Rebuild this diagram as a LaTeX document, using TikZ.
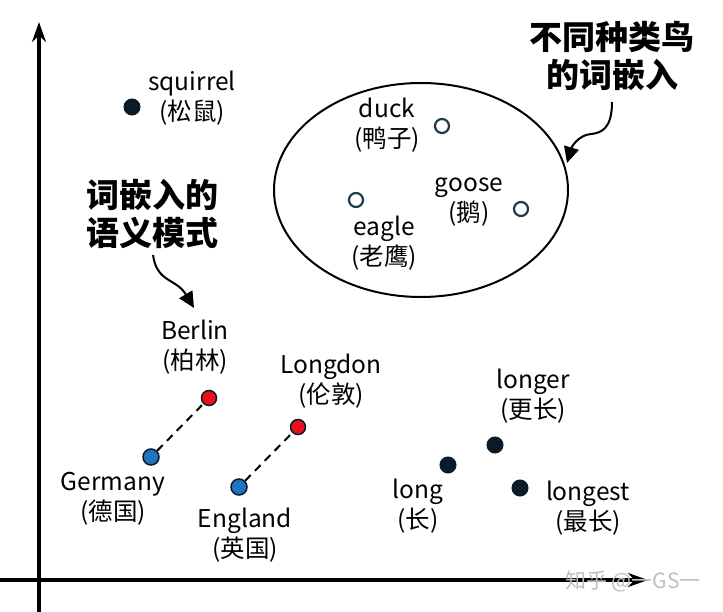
\documentclass[tikz,border=0pt]{standalone}
\usepackage{fontspec}
\usepackage{tikz}
\usetikzlibrary{arrows.meta,shapes.geometric}
\newfontfamily\cjk{Noto Sans CJK SC}

\definecolor{dotdark}{HTML}{0B1A26}
\definecolor{birdline}{HTML}{1C3A48}
\definecolor{cityred}{HTML}{E8101A}
\definecolor{landblue}{HTML}{1F74C2}
\tikzset{
  word/.style={align=center,font=\cjk\fontsize{24.5}{30}\selectfont},
  title/.style={align=center,font=\cjk\bfseries\fontsize{33}{38}\selectfont},
  dot/.style={circle,fill=dotdark,draw=dotdark,line width=1pt,minimum size=16pt,inner sep=0pt},
  bird/.style={circle,fill=white,draw=birdline,line width=2.2pt,minimum size=14pt,inner sep=0pt},
  city/.style={circle,fill=cityred,draw=dotdark,line width=1.5pt,minimum size=15pt,inner sep=0pt},
  land/.style={circle,fill=landblue,draw=dotdark,line width=1.5pt,minimum size=16pt,inner sep=0pt},
  curvy/.style={line width=2pt,-{Triangle[length=16pt,width=15pt]}}
}

\begin{document}
\begin{tikzpicture}[x=1pt,y=-1pt,>=stealth]
  \useasboundingbox (0,0) rectangle (723,612);

  % axes
  \coordinate (O1) at (39,612);
  \coordinate (Y1) at (39,22);
  \coordinate (O2) at (0,580);
  \coordinate (X1) at (648,580);
  \draw[line width=3.5pt,-{Stealth[length=20pt,width=14pt]}] (O1) -- (Y1);
  \draw[line width=3.5pt,-{Stealth[length=20pt,width=14pt]}] (O2) -- (X1);

  % squirrel
  \node[dot] (sq) at (132,107) {};
  \node[word] (sqL) at (192,98) {squirrel\\(松鼠)};

  % birds
  \node[draw,ellipse,line width=2pt,minimum width=294pt,minimum height=214pt] (E) at (421,190) {};
  \node[bird] (duck) at (442,126) {};
  \node[word] (duckL) at (387,125) {duck\\(鸭子)};
  \node[bird] (eagle) at (356,200) {};
  \node[word] (eagleL) at (384,243) {eagle\\(老鹰)};
  \node[bird] (goose) at (521,209) {};
  \node[word] (gooseL) at (469,202) {goose\\(鹅)};

  \node[title] (T1) at (612,56) {不同种类鸟\\的词嵌入};
  \coordinate (T1a) at (612,102);
  \coordinate (T1b) at (567,163);
  \draw[curvy] (T1a) .. controls (612,128) and (602,133) .. (591,134)
    .. controls (579,135) and (572,146) .. (T1b);

  \node[title] (T2) at (152,214) {词嵌入的\\语义模式};
  \coordinate (T2a) at (153,255);
  \coordinate (T2b) at (194,308);
  \draw[curvy] (T2a) .. controls (157,283) and (176,278) .. (T2b);

  % capitals
  \node[land] (DE) at (151,457) {};
  \node[city] (BE) at (209,398) {};
  \node[land] (EN) at (239,487) {};
  \node[city] (LO) at (298,427) {};
  \draw[line width=2pt,dash pattern=on 8pt off 6pt] (DE) -- (BE);
  \draw[line width=2pt,dash pattern=on 8pt off 6pt] (EN) -- (LO);
  \node[word] (BEL) at (195,347) {Berlin\\(柏林)};
  \node[word] (LOL) at (331,381) {Longdon\\(伦敦)};
  \node[word] (DEL) at (113,499) {Germany\\(德国)};
  \node[word] (ENL) at (245,535) {England\\(英国)};

  % long
  \node[dot] (lg) at (448,465) {};
  \node[dot] (lr) at (495,445) {};
  \node[dot] (ls) at (520,488) {};
  \node[word] (lgL) at (418,506) {long\\(长)};
  \node[word] (lrL) at (533,396) {longer\\(更长)};
  \node[word] (lsL) at (588,508) {longest\\(最长)};

  \node[font=\cjk\fontsize{21}{24}\selectfont,text=black!25] (wm) at (633,581) {知乎 @一GS一};
\end{tikzpicture}
\end{document}
